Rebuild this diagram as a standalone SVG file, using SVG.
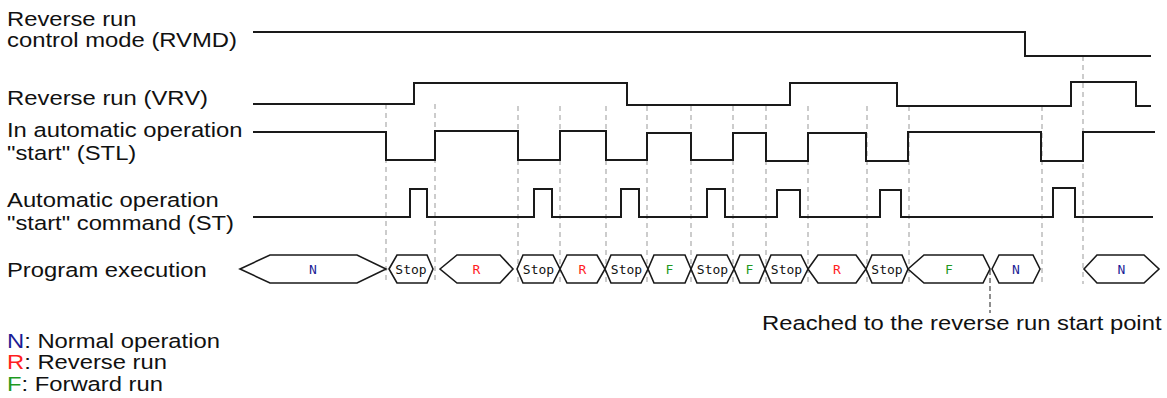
<svg xmlns="http://www.w3.org/2000/svg" width="1167" height="398" viewBox="0 0 1167 398">
<style>
.lbl{font-family:"Liberation Sans",Arial,sans-serif;font-size:20.5px;fill:#111}
.sig{fill:none;stroke:#1a1a1a;stroke-width:2;stroke-linejoin:miter}
.hex{fill:#fff;stroke:#1a1a1a;stroke-width:1.6}
.dash{stroke:#999;stroke-width:1;stroke-dasharray:5,4;fill:none}
.dash2{stroke:#444;stroke-width:1.2;stroke-dasharray:5,3;fill:none}
.st{font-family:"DejaVu Sans Mono",monospace;font-size:13px;fill:#111;text-anchor:middle}
.n{fill:#1c1c96}.r{fill:#ff1e1e}.f{fill:#1f9a1f}
</style>
<rect width="1167" height="398" fill="#fff"/>
<g id="connectors">
<path class="dash" d="M386 104V284M435 104V284M518 106V284M560 106V284M606 106V284M647 106V284M691 106V284M733 106V284M766 106V284M808 106V284M867 106V284M909 106V284M1042 106V284M1083 56V284"/>
<path class="dash2" d="M990 270V313"/>
</g>
<g id="rvmd">
<text class="lbl" x="7" y="26" textLength="129.6" lengthAdjust="spacingAndGlyphs">Reverse run</text>
<text class="lbl" x="7" y="47" textLength="230" lengthAdjust="spacingAndGlyphs">control mode (RVMD)</text>
<path class="sig" d="M253 32H1025V56H1151"/>
</g>
<g id="vrv">
<text class="lbl" x="7" y="105" textLength="201" lengthAdjust="spacingAndGlyphs">Reverse run (VRV)</text>
<path class="sig" d="M253 104H414V83H627V105H790V83H897V106H1071V82H1136V106H1151"/>
</g>
<g id="stl">
<text class="lbl" x="7" y="137" textLength="235.5" lengthAdjust="spacingAndGlyphs">In automatic operation</text>
<text class="lbl" x="7" y="160" textLength="129.3" lengthAdjust="spacingAndGlyphs">"start" (STL)</text>
<path class="sig" d="M253 132H386V160H435V131H518V160H560V131H606V160H647V133H691V160H733V133H766V161H808V133H866V161H908V132H1041V161H1083V132H1155"/>
</g>
<g id="st">
<text class="lbl" x="7" y="207" textLength="211.7" lengthAdjust="spacingAndGlyphs">Automatic operation</text>
<text class="lbl" x="7" y="230" textLength="227" lengthAdjust="spacingAndGlyphs">"start" command (ST)</text>
<path class="sig" d="M253 217H410V189H427V217H534V189H552V217H621V189H639V217H707V189H725V217H777V190H800V217H880V190H901V217H1053V188H1075V217H1153"/>
</g>
<g id="program">
<text class="lbl" x="7" y="277" textLength="199.7" lengthAdjust="spacingAndGlyphs">Program execution</text>
<polygon class="hex" points="240,269 270,255 357,255 386,269 357,283 270,283"/>
<text class="st n" x="313" y="274">N</text>
<polygon class="hex" points="389,269 397,255 427,255 433,269 427,283 397,283"/>
<text class="st" x="411" y="274">Stop</text>
<polygon class="hex" points="440,269 457,255 500,255 513,269 500,283 457,283"/>
<text class="st r" x="476.5" y="274">R</text>
<polygon class="hex" points="517,269 523,255 553,255 560,269 553,283 523,283"/>
<text class="st" x="538.5" y="274">Stop</text>
<polygon class="hex" points="560,269 567,255 597,255 605,269 597,283 567,283"/>
<text class="st r" x="582.5" y="274">R</text>
<polygon class="hex" points="605,269 611,255 641,255 648,269 641,283 611,283"/>
<text class="st" x="626.5" y="274">Stop</text>
<polygon class="hex" points="648,269 654,255 685,255 691,269 685,283 654,283"/>
<text class="st f" x="669.5" y="274">F</text>
<polygon class="hex" points="691,269 697,255 727,255 734,269 727,283 697,283"/>
<text class="st" x="712.5" y="274">Stop</text>
<polygon class="hex" points="734,269 740,255 759,255 765,269 759,283 740,283"/>
<text class="st f" x="749.5" y="274">F</text>
<polygon class="hex" points="765,269 771,255 801,255 808,269 801,283 771,283"/>
<text class="st" x="786.5" y="274">Stop</text>
<polygon class="hex" points="808,269 818,255 856,255 866,269 856,283 818,283"/>
<text class="st r" x="837" y="274">R</text>
<polygon class="hex" points="866,269 872,255 902,255 908,269 902,283 872,283"/>
<text class="st" x="887" y="274">Stop</text>
<polygon class="hex" points="908,269 924,255 983,255 990,269 983,283 924,283"/>
<text class="st f" x="949" y="274">F</text>
<polygon class="hex" points="992,269 999,255 1033,255 1040,269 1033,283 999,283"/>
<text class="st n" x="1016" y="274">N</text>
<polygon class="hex" points="1084,269 1097,255 1144,255 1159,269 1144,283 1097,283"/>
<text class="st n" x="1121.5" y="274">N</text>
</g>
<g id="note">
<text class="lbl" x="762" y="330" textLength="399.5" lengthAdjust="spacingAndGlyphs">Reached to the reverse run start point</text>
</g>
<g id="legend">
<text class="lbl" x="7" y="348" textLength="213" lengthAdjust="spacingAndGlyphs"><tspan class="n">N</tspan>: Normal operation</text>
<text class="lbl" x="7" y="369" textLength="160" lengthAdjust="spacingAndGlyphs"><tspan class="r">R</tspan>: Reverse run</text>
<text class="lbl" x="7" y="391" textLength="156" lengthAdjust="spacingAndGlyphs"><tspan class="f">F</tspan>: Forward run</text>
</g>
</svg>
